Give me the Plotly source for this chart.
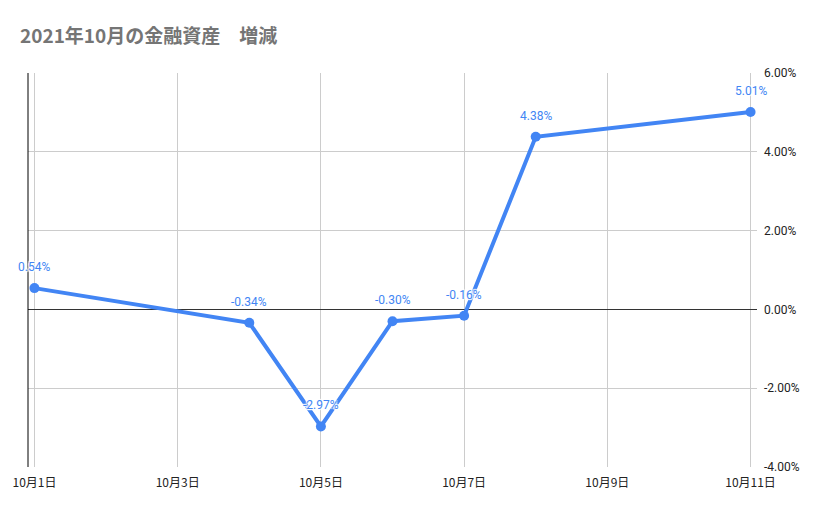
import plotly.graph_objects as go

# data
dates = ['2021-10-01', '2021-10-04', '2021-10-05', '2021-10-06', '2021-10-07', '2021-10-08', '2021-10-11']
change = [0.54, -0.34, -2.97, -0.30, -0.16, 4.38, 5.01]

tick_dates = ['2021-10-01', '2021-10-03', '2021-10-05', '2021-10-07', '2021-10-09', '2021-10-11']
tick_labels = ['10月1日', '10月3日', '10月5日', '10月7日', '10月9日', '10月11日']
y_ticks = [-4, -2, 0, 2, 4, 6]
y_labels = ['-4.00%', '-2.00%', '0.00%', '2.00%', '4.00%', '6.00%']

blue = '#4285F4'
halo = '-1px -1px 1px white, 1px 1px 1px white, 1px -1px 1px white, -1px 1px 1px white, 0 0 2px white'

fig = go.Figure()
fig.add_trace(go.Scatter(
    x=dates, y=change,
    mode='lines+markers',
    line=dict(color=blue, width=4),
    marker=dict(color=blue, size=10),
    hoverinfo='x+y',
    showlegend=False
))

# data labels above each point
for d, v in zip(dates, change):
    fig.add_annotation(
        x=d, y=v, text='%.2f%%' % v,
        showarrow=False, yshift=21,
        font=dict(family='Roboto, Arial', size=12, color=blue, shadow=halo)
    )

# black axis line on the left
fig.add_shape(type='line', xref='paper', yref='paper', x0=0, x1=0, y0=0, y1=1,
              line=dict(color='black', width=1))

fig.update_layout(
    title=dict(
        text='<b>2021年10月の金融資産　増減</b>',
        x=20 / 829, xanchor='left', y=1 - 36 / 514, yanchor='middle',
        font=dict(family='Noto Sans CJK JP', size=19, color='#757575')
    ),
    width=829, height=514,
    margin=dict(l=25, r=72, t=73, b=47),
    paper_bgcolor='white',
    plot_bgcolor='white',
    xaxis=dict(
        type='date',
        range=['2021-09-30 21:50', '2021-10-11 02:10'],
        tickvals=tick_dates,
        ticktext=tick_labels,
        showgrid=True, gridcolor='#cccccc', gridwidth=1,
        zeroline=False, showline=False, ticks='',
        ticklabelstandoff=7,
        tickfont=dict(family='Noto Sans CJK JP', size=12, color='#222222')
    ),
    yaxis=dict(
        side='right',
        range=[-4, 6],
        tickvals=y_ticks,
        ticktext=y_labels,
        showgrid=True, gridcolor='#cccccc', gridwidth=1,
        zeroline=True, zerolinecolor='#333333', zerolinewidth=1,
        showline=False, ticks='',
        ticklabelstandoff=6,
        tickfont=dict(family='Roboto, Arial', size=12, color='#222222')
    )
)

# page has a default 8px body margin; drop it so the figure sits at 0,0
fig.write_html('out.html', config={'displayModeBar': False},
               post_script="document.body.style.margin='0';")
